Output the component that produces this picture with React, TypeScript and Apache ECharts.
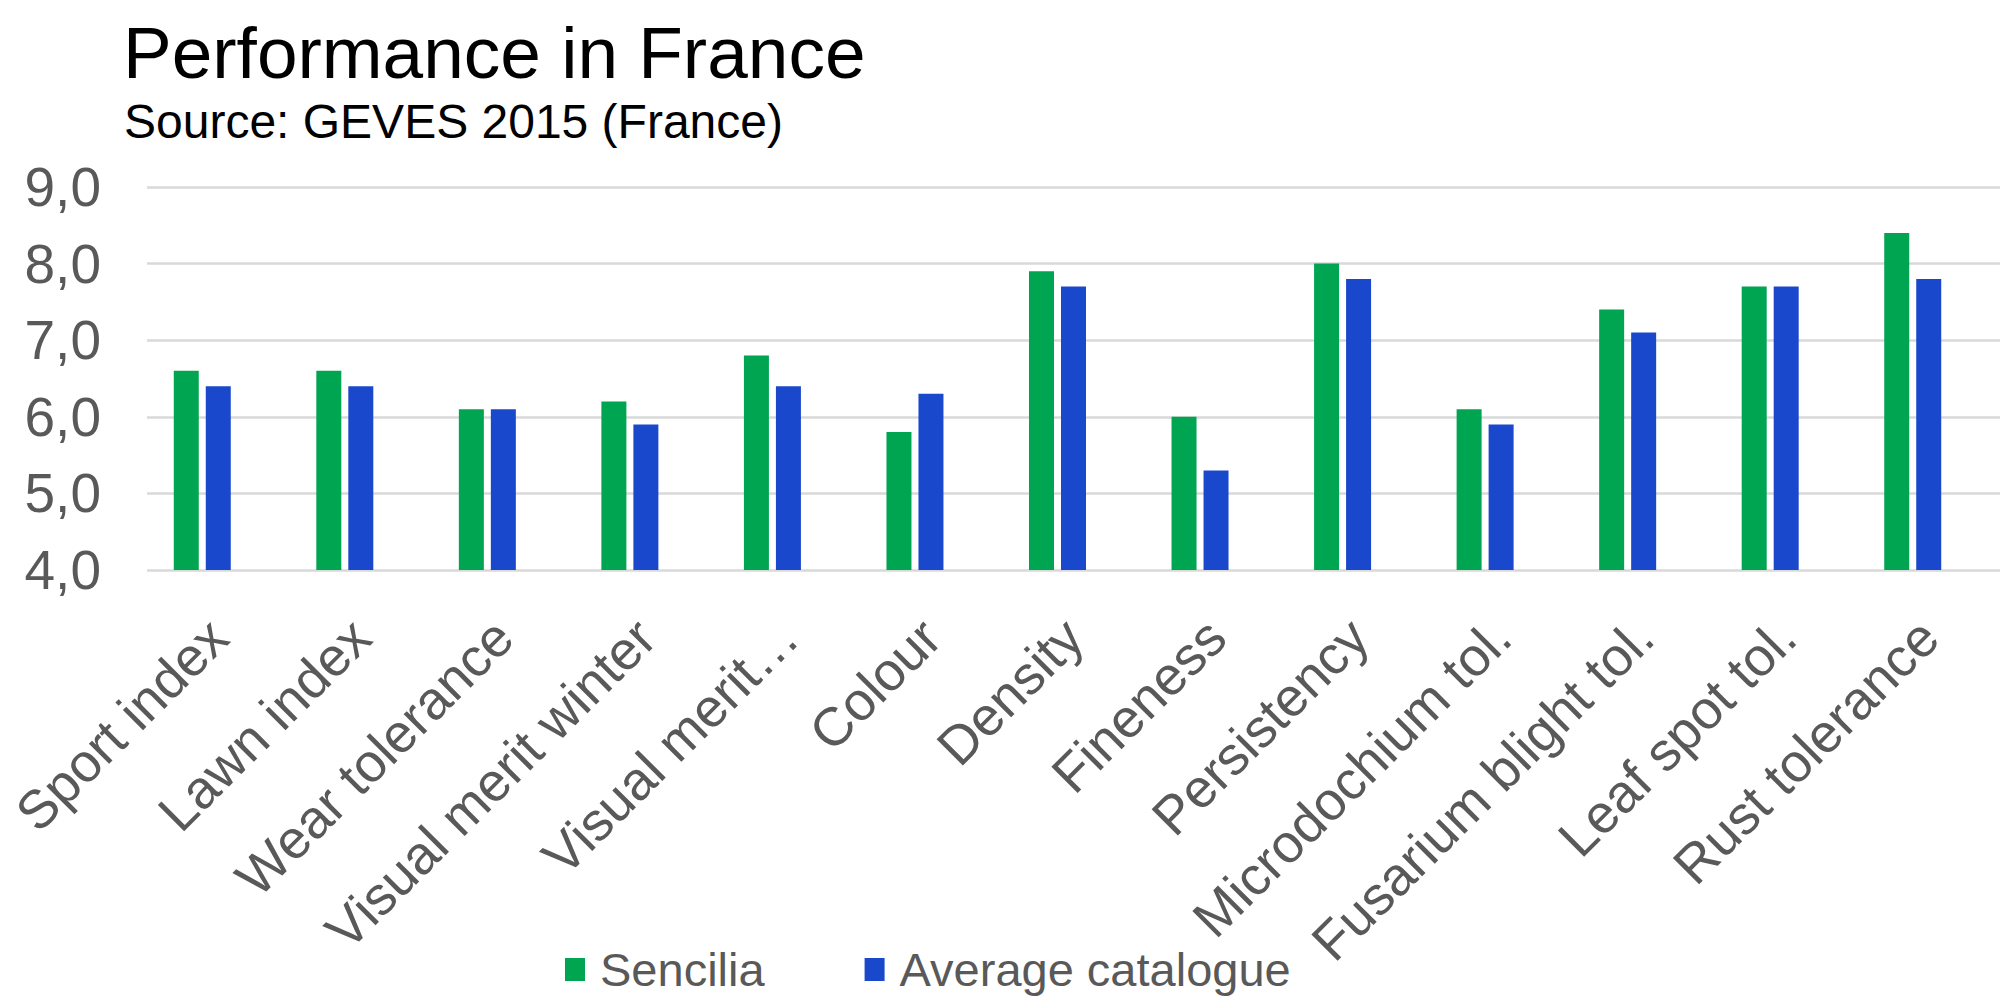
import React, { useEffect, useRef } from "react";
import * as echarts from "echarts";

const categories = [
  "Sport index",
  "Lawn index",
  "Wear tolerance",
  "Visual merit winter",
  "Visual merit…",
  "Colour",
  "Density",
  "Fineness",
  "Persistency",
  "Microdochium tol.",
  "Fusarium blight tol.",
  "Leaf spot tol.",
  "Rust tolerance",
];
const sencilia = [6.6, 6.6, 6.1, 6.2, 6.8, 5.8, 7.9, 6.0, 8.0, 6.1, 7.4, 7.7, 8.4];
const averageCatalogue = [6.4, 6.4, 6.1, 5.9, 6.4, 6.3, 7.7, 5.3, 7.8, 5.9, 7.1, 7.7, 7.8];
const yTicks = { min: 4, max: 9, interval: 1 };

const FONT = "'Liberation Sans', Arial, sans-serif";
const GREY = "#595959";

export default function App() {
  const ref = useRef<HTMLDivElement>(null);
  useEffect(() => {
    if (!ref.current) return;
    const chart = echarts.init(ref.current, undefined, { renderer: "svg" });
    chart.setOption({
      animation: false,
      backgroundColor: "#ffffff",
      title: [
        {
          text: "Performance in France",
          left: 123,
          top: 16,
          padding: 0,
          textStyle: { fontFamily: FONT, fontSize: 73, fontWeight: "normal", color: "#000000" },
        },
        {
          text: "Source: GEVES 2015 (France)",
          left: 124,
          top: 97,
          padding: 0,
          textStyle: { fontFamily: FONT, fontSize: 48, fontWeight: "normal", color: "#000000" },
        },
      ],
      legend: {
        data: ["Sencilia", "Average catalogue"],
        left: 565,
        top: 946,
        padding: 0,
        itemWidth: 20,
        itemHeight: 23,
        itemGap: 100,
        icon: "rect",
        textStyle: { fontFamily: FONT, fontSize: 47, color: GREY, padding: [0, 0, 0, 10] },
      },
      grid: { left: 147, right: 0, top: 187, bottom: 430, containLabel: false },
      xAxis: {
        type: "category",
        data: categories,
        axisLine: { show: false },
        axisTick: { show: false },
        axisLabel: {
          rotate: 45,
          interval: 0,
          margin: 58,
          fontFamily: FONT,
          fontSize: 54,
          color: GREY,
        },
      },
      yAxis: {
        type: "value",
        min: yTicks.min,
        max: yTicks.max,
        interval: yTicks.interval,
        axisLine: { show: false },
        axisTick: { show: false },
        splitLine: { lineStyle: { color: "#d9d9d9", width: 2.5 } },
        axisLabel: {
          margin: 46,
          fontFamily: FONT,
          fontSize: 55,
          color: GREY,
          formatter: (v: number) => v.toFixed(1).replace(".", ","),
        },
      },
      series: [
        {
          name: "Sencilia",
          type: "bar",
          data: sencilia,
          barWidth: 25,
          barGap: "28%",
          itemStyle: { color: "#00a551" },
        },
        {
          name: "Average catalogue",
          type: "bar",
          data: averageCatalogue,
          barWidth: 25,
          barGap: "28%",
          itemStyle: { color: "#1a48cc" },
        },
        {
          name: "spacer",
          type: "bar",
          data: [],
          barWidth: 25,
          barGap: "28%",
          itemStyle: { color: "transparent" },
        },
      ],
    });
    return () => chart.dispose();
  }, []);
  return (
    <div
      ref={ref}
      style={{ position: "absolute", left: 0, top: 0, width: 2000, height: 1000 }}
    />
  );
}
